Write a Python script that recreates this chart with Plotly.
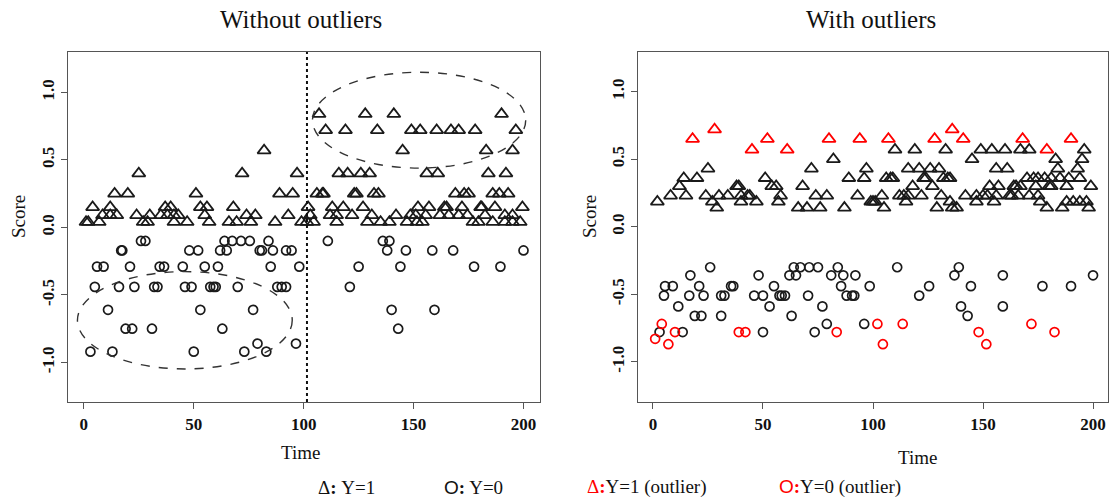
import plotly.graph_objects as go

# ---------------- data ----------------
# Left panel: "Without outliers"
left_tri_levels = [0.84, 0.72, 0.57, 0.40, 0.25, 0.15, 0.09, 0.04]
left_tri_times = [
    [107, 128, 141, 190],
    [110, 119, 133.5, 149, 153, 160.5, 167, 170.5, 178, 196.5],
    [82, 145, 183, 195],
    [25, 72, 97, 116, 120, 126, 130, 156, 161, 184, 192],
    [14, 20, 51, 89, 95, 106, 108.5, 109, 123, 124, 132, 134, 169, 173, 175, 186, 189, 193],
    [4, 12, 37, 39.5, 53, 56, 68, 102, 113, 118, 127, 152, 157, 164, 165, 172, 180.5, 181, 187, 199.5],
    [8.5, 12, 15, 24, 30, 35, 38, 41, 43, 55, 74, 78, 93, 103, 112, 115, 122, 131, 142, 148.5,
     151, 155.5, 162, 166, 170.5, 174.5, 182.5, 191.5, 195],
    [1, 2, 7, 27, 29, 41, 47, 57, 66, 69.5, 76, 87, 99, 101.5, 104.5, 115, 129, 135, 139, 147,
     151.5, 154, 177, 179.5, 186, 191.5, 195, 198.5],
]
left_cir_levels = [-0.10, -0.17, -0.29, -0.44, -0.61, -0.75, -0.86, -0.92]
left_cir_times = [
    [26, 28, 64, 67.5, 71.5, 75.5, 84, 111, 136, 139],
    [17, 17.5, 48, 52, 62, 65, 80, 81, 86, 92, 94.5, 138, 146.5, 158.5, 168, 200],
    [6, 9, 21, 34.5, 36.5, 45, 55, 61, 85, 98, 125, 144, 177.5, 189.5],
    [5, 16, 23, 32, 33.5, 46, 49, 57.5, 59, 60, 70, 88, 90, 92, 121],
    [11, 53, 77, 140, 159.5],
    [19, 22, 31, 63, 143],
    [79, 96.5],
    [3, 13, 50, 73, 83],
]

# Right panel: "With outliers"
right_tri_levels = [0.57, 0.50, 0.43, 0.36, 0.30, 0.23, 0.185, 0.14]
right_tri_times = [
    [110, 119, 133, 149, 154, 160, 167, 171, 196],
    [82, 145, 183, 195],
    [25, 72, 97, 116, 121, 126, 130, 156, 161, 184, 193],
    [14, 20, 51, 89, 96, 106, 108, 109, 123, 124, 132, 134, 135, 170, 173, 175, 178, 181, 185, 189, 194],
    [12, 38, 39, 54, 56, 68, 118, 127, 153, 157, 164, 165, 167, 174, 180, 181, 188, 199],
    [8, 15, 24, 30, 34, 40, 43, 44, 58, 74, 79, 93, 104, 112, 114, 116, 122, 131, 142, 147,
     150, 152, 156, 162, 163, 166, 171, 175],
    [2, 27, 40, 47, 57, 99, 100, 101, 115, 135, 147, 155, 176, 188, 191, 194, 197],
    [29, 66, 70, 76, 87, 105, 129, 136, 138, 179, 186, 198],
]
right_tri_out_t = [18, 28, 45, 52, 61, 80, 94, 107, 128, 136, 141, 168, 179, 190]
right_tri_out_y = [0.65, 0.72, 0.57, 0.65, 0.57, 0.65, 0.65, 0.65, 0.65, 0.72, 0.65, 0.65, 0.57, 0.65]

right_cir_levels = [-0.30, -0.36, -0.44, -0.51, -0.59, -0.66, -0.72, -0.78]
right_cir_times = [
    [26, 64, 67, 71, 75, 84, 111, 139],
    [17, 48, 62, 65, 81, 86.5, 92, 137, 159, 200],
    [5.5, 9, 21, 35.5, 36.5, 55, 85.5, 98.5, 125.5, 144.5, 177, 190],
    [5, 16.5, 23, 31, 32.5, 46, 50, 57.5, 58.5, 60, 70.5, 88, 90.5, 91.5, 121],
    [11.5, 53, 77, 140, 159],
    [19, 22, 31, 63, 143],
    [79, 96],
    [3, 13.5, 50, 73.5],
]
right_cir_out_t = [1, 4, 7, 10, 39, 42, 83.5, 102, 104.5, 113.5, 148, 151.5, 172, 182.5]
right_cir_out_y = [-0.83, -0.72, -0.87, -0.78, -0.78, -0.78, -0.78, -0.72, -0.87, -0.72,
                   -0.78, -0.87, -0.72, -0.78]

x_tick_vals = [0, 50, 100, 150, 200]
x_tick_text = ["0", "50", "100", "150", "200"]
y_tick_vals = [-1.0, -0.5, 0.0, 0.5, 1.0]
y_tick_text = ["-1.0", "-0.5", "0.0", "0.5", "1.0"]

split_time = 101.5

# ---------------- helpers ----------------
def flatten(levels, times):
    xs, ys = [], []
    for lv, ts in zip(levels, times):
        xs.extend(ts)
        ys.extend([lv] * len(ts))
    return xs, ys

W, H = 1116, 503
BLACK = "#1a1a1a"
RED = "#ff0000"
SERIF = "Liberation Serif, Times New Roman, serif"

tri = dict(symbol="triangle-up-open", size=11.5, line=dict(width=1.8))
cir = dict(symbol="circle-open", size=9, line=dict(width=1.7))

fig = go.Figure()

lx, ly = flatten(left_tri_levels, left_tri_times)
fig.add_trace(go.Scatter(x=lx, y=ly, mode="markers", xaxis="x", yaxis="y",
                         marker=dict(color=BLACK, **tri), showlegend=False))
lx, ly = flatten(left_cir_levels, left_cir_times)
fig.add_trace(go.Scatter(x=lx, y=ly, mode="markers", xaxis="x", yaxis="y",
                         marker=dict(color=BLACK, **cir), showlegend=False))

rx, ry = flatten(right_tri_levels, right_tri_times)
fig.add_trace(go.Scatter(x=rx, y=ry, mode="markers", xaxis="x2", yaxis="y2",
                         marker=dict(color=BLACK, **tri), showlegend=False))
rx, ry = flatten(right_cir_levels, right_cir_times)
fig.add_trace(go.Scatter(x=rx, y=ry, mode="markers", xaxis="x2", yaxis="y2",
                         marker=dict(color=BLACK, **cir), showlegend=False))
fig.add_trace(go.Scatter(x=right_tri_out_t, y=right_tri_out_y, mode="markers", xaxis="x2", yaxis="y2",
                         marker=dict(color=RED, **tri), showlegend=False))
fig.add_trace(go.Scatter(x=right_cir_out_t, y=right_cir_out_y, mode="markers", xaxis="x2", yaxis="y2",
                         marker=dict(color=RED, **cir), showlegend=False))

def px_x(p):
    return p / W

def px_y(p):
    return 1 - p / H

ydom = [px_y(402), px_y(52)]
axis_common = dict(showgrid=False, zeroline=False, showline=True, linecolor="#555555", linewidth=1.3,
                   mirror=True, ticks="outside", ticklen=6, tickwidth=1.2, tickcolor="#555555",
                   tickfont=dict(family=SERIF, size=17, color="#111111"))

fig.update_layout(
    width=W, height=H, autosize=False,
    margin=dict(l=0, r=0, t=0, b=0),
    paper_bgcolor="white", plot_bgcolor="white",
    xaxis=dict(domain=[px_x(68), px_x(540)], range=[-7.2, 207.5], anchor="y",
               tickvals=x_tick_vals, ticktext=x_tick_text, **axis_common),
    yaxis=dict(domain=ydom, range=[-1.293, 1.30], anchor="x",
               tickvals=y_tick_vals, ticktext=y_tick_text, tickangle=-90, **axis_common),
    xaxis2=dict(domain=[px_x(638), px_x(1108)], range=[-6.8, 206.8], anchor="y2",
                tickvals=x_tick_vals, ticktext=x_tick_text, **axis_common),
    yaxis2=dict(domain=ydom, range=[-1.298, 1.294], anchor="x2",
                tickvals=y_tick_vals, ticktext=y_tick_text, tickangle=-90, **axis_common),
)

for ax in ["xaxis", "yaxis", "xaxis2", "yaxis2"]:
    fig.layout[ax].tickfont.weight = "bold"

# dotted separator and dashed ellipses (annotation shapes)
fig.add_shape(type="line", xref="x", yref="y domain", x0=split_time, x1=split_time, y0=0, y1=1,
              line=dict(color="#111111", width=2, dash="dot"))
fig.add_shape(type="circle", xref="x", yref="y", x0=-2.9, x1=94.8, y0=-1.048, y1=-0.327,
              line=dict(color="#333333", width=1.4, dash="dash"))
fig.add_shape(type="circle", xref="x", yref="y", x0=104, x1=201, y0=0.44, y1=1.15,
              line=dict(color="#333333", width=1.4, dash="dash"))

def ann(text, x, y, size, angle=0, color="#111111"):
    fig.add_annotation(text=text, xref="paper", yref="paper", x=px_x(x), y=px_y(y),
                       xanchor="center", yanchor="middle", showarrow=False, textangle=angle,
                       font=dict(family=SERIF, size=size, color=color))

ann("Without outliers", 301, 20, 25)
ann("With outliers", 871, 20, 25)
ann("Score", 18, 217, 19, angle=-90)
ann("Score", 589, 217, 19, angle=-90)
ann("Time", 300, 452, 19)
ann("Time", 917, 457, 19)

SANS_O = "<span style='font-family:Liberation Sans'>O</span>"
ann("Δ<b>:</b> Y=1", 346, 487, 19)
ann(SANS_O + "<b>:</b> Y=0", 473, 487, 19)
ann("<span style='color:#ff0000'>Δ<b>:</b></span>Y=1 (outlier)", 646, 487, 19)
ann("<span style='color:#ff0000'>" + SANS_O + "<b>:</b></span>Y=0 (outlier)", 840, 487, 19)

fig.write_html("out.html")
